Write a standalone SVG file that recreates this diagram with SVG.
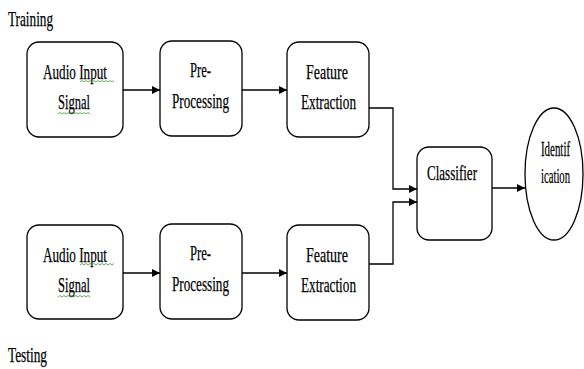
<svg xmlns="http://www.w3.org/2000/svg" width="584" height="369" viewBox="0 0 584 369">
<style>
.box{fill:#fff;stroke:#000;stroke-width:1.3}
.t{font-family:"Liberation Serif","Times New Roman",serif;font-size:21px;fill:#000;stroke:#000;stroke-width:0.25}
.m{text-anchor:middle}
.ln{fill:none;stroke:#000;stroke-width:1.3}
.sq{fill:none;stroke:#3a9a3a;stroke-width:0.8}
</style>
<defs>
<marker id="ah" viewBox="0 0 10 10" refX="10" refY="5" markerWidth="8" markerHeight="8" markerUnits="userSpaceOnUse" orient="auto">
<path d="M0,0 L10,5 L0,10 z" fill="#000"/>
</marker>
</defs>
<text class="t" x="8" y="26" textLength="45" lengthAdjust="spacingAndGlyphs">Training</text>
<text class="t" x="8" y="362" textLength="39" lengthAdjust="spacingAndGlyphs">Testing</text>

<g id="audio1">
<rect class="box" x="27" y="42" width="96" height="95" rx="12"/>
<text class="t" x="43" y="79" textLength="64" lengthAdjust="spacingAndGlyphs">Audio Input</text>
<text class="t" x="58" y="109" textLength="32" lengthAdjust="spacingAndGlyphs">Signal</text>
<path class="sq" d="M80,82 l2,-1.5 l2,1.5 l2,-1.5 l2,1.5 l2,-1.5 l2,1.5 l2,-1.5 l2,1.5 l2,-1.5 l2,1.5 l2,-1.5 l2,1.5 l2,-1.5 l2,1.5 l2,-1.5 l2,1.5 l2,-1.5"/>
<path class="sq" d="M58,114 l2,-1.5 l2,1.5 l2,-1.5 l2,1.5 l2,-1.5 l2,1.5 l2,-1.5 l2,1.5 l2,-1.5 l2,1.5 l2,-1.5 l2,1.5 l2,-1.5 l2,1.5 l2,-1.5 l2,1.5"/>
</g>
<g id="pre1">
<rect class="box" x="160" y="41" width="82" height="95" rx="12"/>
<text class="t" x="190" y="77" textLength="21" lengthAdjust="spacingAndGlyphs">Pre-</text>
<text class="t" x="172" y="108" textLength="57" lengthAdjust="spacingAndGlyphs">Processing</text>
</g>
<g id="feat1">
<rect class="box" x="287" y="42" width="82" height="95" rx="12"/>
<text class="t" x="306" y="79" textLength="42" lengthAdjust="spacingAndGlyphs">Feature</text>
<text class="t" x="301" y="109" textLength="55" lengthAdjust="spacingAndGlyphs">Extraction</text>
</g>

<g id="audio2">
<rect class="box" x="27" y="225" width="96" height="94" rx="12"/>
<text class="t" x="43" y="262" textLength="64" lengthAdjust="spacingAndGlyphs">Audio Input</text>
<text class="t" x="58" y="292" textLength="32" lengthAdjust="spacingAndGlyphs">Signal</text>
<path class="sq" d="M80,265 l2,-1.5 l2,1.5 l2,-1.5 l2,1.5 l2,-1.5 l2,1.5 l2,-1.5 l2,1.5 l2,-1.5 l2,1.5 l2,-1.5 l2,1.5 l2,-1.5 l2,1.5 l2,-1.5 l2,1.5 l2,-1.5"/>
<path class="sq" d="M58,297 l2,-1.5 l2,1.5 l2,-1.5 l2,1.5 l2,-1.5 l2,1.5 l2,-1.5 l2,1.5 l2,-1.5 l2,1.5 l2,-1.5 l2,1.5 l2,-1.5 l2,1.5 l2,-1.5 l2,1.5"/>
</g>
<g id="pre2">
<rect class="box" x="160" y="224" width="82" height="95" rx="12"/>
<text class="t" x="190" y="260" textLength="21" lengthAdjust="spacingAndGlyphs">Pre-</text>
<text class="t" x="172" y="291" textLength="57" lengthAdjust="spacingAndGlyphs">Processing</text>
</g>
<g id="feat2">
<rect class="box" x="287" y="225" width="82" height="95" rx="12"/>
<text class="t" x="306" y="262" textLength="42" lengthAdjust="spacingAndGlyphs">Feature</text>
<text class="t" x="301" y="292" textLength="55" lengthAdjust="spacingAndGlyphs">Extraction</text>
</g>

<g id="classifier">
<rect class="box" x="417" y="147" width="75" height="93" rx="12"/>
<text class="t" x="427" y="180" textLength="50" lengthAdjust="spacingAndGlyphs">Classifier</text>
</g>
<g id="identification">
<ellipse class="box" cx="554" cy="174" rx="29" ry="66"/>
<text class="t m" transform="translate(555.5,156) scale(0.52,1)" x="0" y="0">Identif</text>
<text class="t m" transform="translate(555.5,183) scale(0.51,1)" x="0" y="0">ication</text>
</g>

<g id="connectors">
<line class="ln" x1="123" y1="90" x2="160" y2="90" marker-end="url(#ah)"/>
<line class="ln" x1="242" y1="90" x2="287" y2="90" marker-end="url(#ah)"/>
<line class="ln" x1="123" y1="273" x2="160" y2="273" marker-end="url(#ah)"/>
<line class="ln" x1="242" y1="273" x2="287" y2="273" marker-end="url(#ah)"/>
<polyline class="ln" points="369,108 393,108 393,189 417,189" marker-end="url(#ah)"/>
<polyline class="ln" points="369,264 393,264 393,202 417,202" marker-end="url(#ah)"/>
<line class="ln" x1="492" y1="188" x2="525" y2="188" marker-end="url(#ah)"/>
</g>
</svg>
